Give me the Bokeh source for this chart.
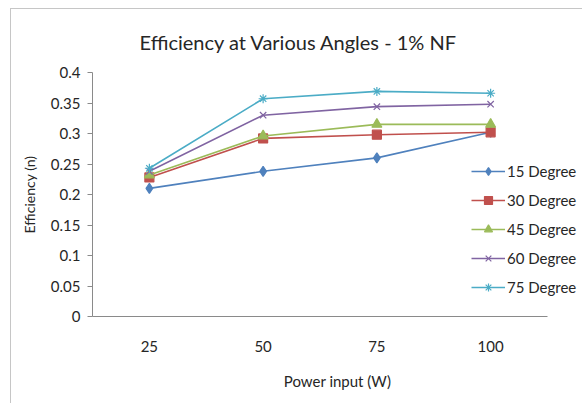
from bokeh.plotting import figure
from bokeh.models import Range1d, Legend, LegendItem
from bokeh.embed import file_html
from bokeh.resources import INLINE

power = [25, 50, 75, 100]
x_labels = ["25", "50", "75", "100"]
deg15 = [0.210, 0.238, 0.260, 0.302]
deg30 = [0.228, 0.292, 0.298, 0.302]
deg45 = [0.232, 0.296, 0.315, 0.315]
deg60 = [0.238, 0.330, 0.344, 0.348]
deg75 = [0.243, 0.357, 0.369, 0.366]
series_names = ["15 Degree", "30 Degree", "45 Degree", "60 Degree", "75 Degree"]
y_ticks = [0, 0.05, 0.1, 0.15, 0.2, 0.25, 0.3, 0.35, 0.4]

colors = ["#4F81BD", "#C0504D", "#9BBB59", "#8064A2", "#4BACC6"]
markers = ["diamond", "square", "triangle", "x", "asterisk"]
msizes = [10, 9, 10, 9, 9]
FONT = "Lato"
TXT = "#262626"

# Excel-style category slots of width 25; the frame runs on to the right edge
# so that the legend (which overlaps the plot area) is not clipped.
x_start = 12.5
x_axis_end = 112.5
x_end = x_start + 100 * (582 - 92) / (547 - 92)

p = figure(width=582, height=403, x_range=Range1d(x_start, x_end),
           y_range=Range1d(0, 0.4), output_backend="svg", toolbar_location=None,
           min_border_left=92, min_border_right=0, min_border_top=72, min_border_bottom=87)
p.border_fill_color = None
p.background_fill_color = None
p.outline_line_color = None
p.xgrid.grid_line_color = None
p.ygrid.grid_line_color = None
p.styles = {
    "background-color": "white",
    "background-image": "linear-gradient(#c6c6c6,#c6c6c6), linear-gradient(#c6c6c6,#c6c6c6)",
    "background-size": "572px 1px, 1px 395px",
    "background-position": "10px 8px, 10px 8px",
    "background-repeat": "no-repeat",
}

p.title.text = "Efficiency at Various Angles - 1% NF"
p.title.text_font = FONT
p.title.text_font_size = "20px"
p.title.text_font_style = "normal"
p.title.text_color = TXT
p.title.align = "left"
p.title.offset = 47
p.title.standoff = 38

p.yaxis.ticker = y_ticks
p.yaxis.axis_label = "Efficiency (n)"
p.yaxis.axis_label_text_font = FONT
p.yaxis.axis_label_text_font_size = "14px"
p.yaxis.axis_label_text_font_style = "normal"
p.yaxis.axis_label_text_color = TXT
p.yaxis.axis_label_standoff = 10
p.yaxis.major_label_text_font = FONT
p.yaxis.major_label_text_font_size = "15px"
p.yaxis.major_label_text_color = TXT
p.yaxis.axis_line_color = "#8a8a8a"
p.yaxis.major_tick_line_color = "#8a8a8a"
p.yaxis.major_tick_out = 5
p.yaxis.major_tick_in = 0
p.yaxis.minor_tick_line_color = None
p.yaxis.major_label_standoff = 7

p.xaxis.ticker = power
p.xaxis.major_label_overrides = {v: s for v, s in zip(power, x_labels)}
p.xaxis.bounds = (x_start, x_axis_end)
p.xaxis.axis_label = "Power input (W)"
p.xaxis.axis_label_text_font = FONT
p.xaxis.axis_label_text_font_size = "15px"
p.xaxis.axis_label_text_font_style = "normal"
p.xaxis.axis_label_text_color = TXT
p.xaxis.axis_label_standoff = 17
p.xaxis.major_label_text_font = FONT
p.xaxis.major_label_text_font_size = "15px"
p.xaxis.major_label_text_color = TXT
p.xaxis.axis_line_color = "#8a8a8a"
p.xaxis.major_tick_line_color = None
p.xaxis.minor_tick_line_color = None
p.xaxis.major_label_standoff = 18

items = []
for name, vals, c, m, s in zip(series_names, [deg15, deg30, deg45, deg60, deg75], colors, markers, msizes):
    l = p.line(power, vals, line_color=c, line_width=1.6)
    sc = p.scatter(power, vals, marker=m, size=s, fill_color=c, line_color=c, line_width=1.2)
    items.append(LegendItem(label=name, renderers=[l, sc]))

legend = Legend(items=items, location=(379, 19), orientation="vertical")
legend.label_text_font = FONT
legend.label_text_font_size = "15px"
legend.label_text_color = TXT
legend.border_line_color = None
legend.background_fill_alpha = 0
legend.glyph_width = 34
legend.glyph_height = 20
legend.label_height = 20
legend.spacing = 9
legend.padding = 2
legend.margin = 0
legend.label_standoff = 2
p.add_layout(legend, "center")

open("out.html", "w").write(file_html(p, INLINE))
